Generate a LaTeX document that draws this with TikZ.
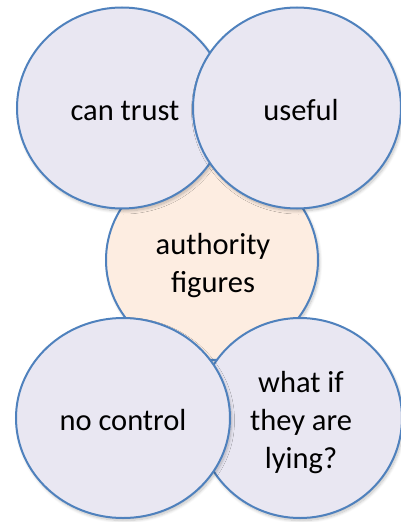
\documentclass[tikz,border=0pt]{standalone}
\usepackage{fontspec}
\setmainfont{Carlito}
\usetikzlibrary{shapes.geometric,shadows.blur}
\definecolor{lav}{RGB}{233,231,242}
\definecolor{peach}{RGB}{253,237,225}
\definecolor{rim}{RGB}{79,129,189}
\tikzset{
  bubble/.style={ellipse, draw=rim, line width=2pt, inner sep=0pt,
    blur shadow={shadow xshift=1.5pt, shadow yshift=-2.5pt, shadow blur steps=10, shadow blur radius=3pt, shadow opacity=25}},
  txt/.style={anchor=base, inner sep=0pt, font=\fontsize{30.5}{37}\selectfont}
}
\begin{document}
\begin{tikzpicture}[x=1pt,y=-1pt]
\useasboundingbox (0,0) rectangle (400,522);
\node[bubble, fill=peach, minimum width=212pt, minimum height=200pt] (au) at (212,260) {};
\node[bubble, fill=lav, minimum width=204pt, minimum height=200pt] (wl) at (300,418) {};
\node[bubble, fill=lav, minimum width=214pt, minimum height=200pt] (nc) at (123,418) {};
\node[bubble, fill=lav, minimum width=210pt, minimum height=201pt] (ct) at (122,108) {};
\node[bubble, fill=lav, minimum width=208pt, minimum height=201pt] (us) at (297,108) {};
\node[txt] (t1) at (125,120) {can trust};
\node[txt] (t2) at (301,120) {useful};
\node[txt] (t3) at (213,254) {authority};
\node[txt] (t4) at (213,292) {figures};
\node[txt] (t5) at (123,430) {no control};
\node[txt] (t6) at (301,392) {what if};
\node[txt] (t7) at (301,430) {they are};
\node[txt] (t8) at (301,468) {lying?};
\end{tikzpicture}
\end{document}
